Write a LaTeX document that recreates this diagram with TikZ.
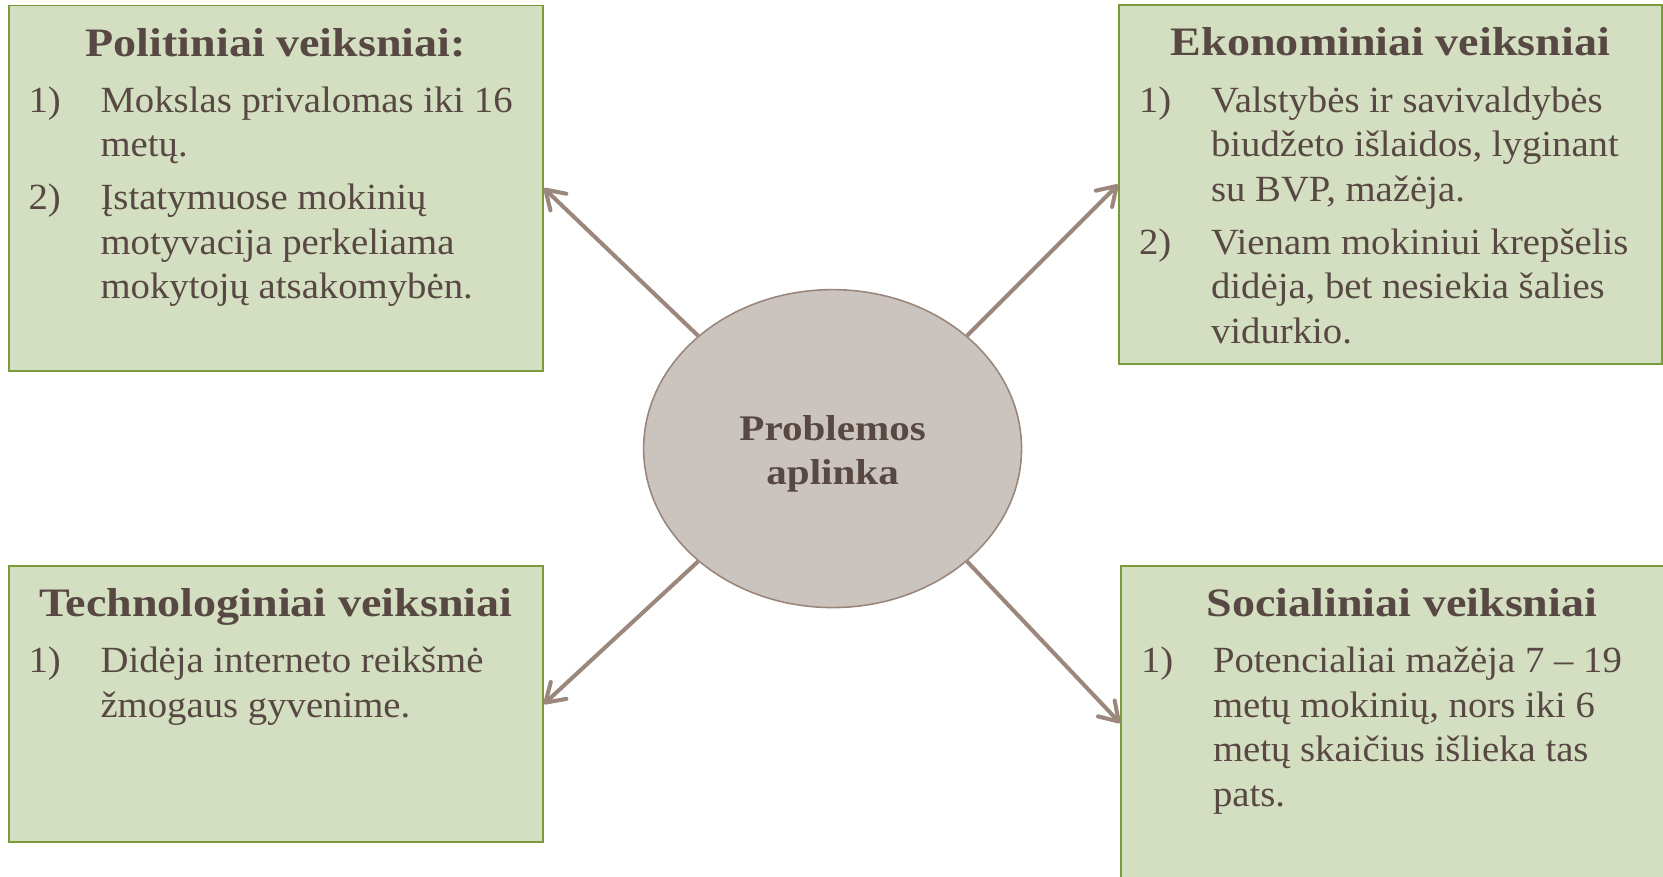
\documentclass[tikz,border=0pt]{standalone}
\usepackage{fontspec}
\setmainfont{Liberation Serif}[FakeStretch=1.05]
\newfontfamily\antrfont{Liberation Serif}[FakeStretch=1.14]
\usetikzlibrary{arrows.meta,shapes.geometric}

\definecolor{tekstas}{HTML}{574843}
\definecolor{langelis}{HTML}{D4DEC0}
\definecolor{remelis}{HTML}{7A9A3C}
\definecolor{elipse}{HTML}{CBC3BD}
\definecolor{elipsekr}{HTML}{9A867B}
\definecolor{rodykliu}{HTML}{9B877C}

\newcommand{\antraste}[1]{{\centering\antrfont\bfseries\fontsize{23}{25.3}\selectfont #1\par}\vspace{2pt}}
\newcommand{\punktas}[2]{{\let\\\newline\hangindent=1.44cm\hangafter=1\noindent\makebox[1.44cm][l]{#1}#2\par}}
\newcommand{\turinys}[3]{\parbox[t][#2][t]{#1}{\raggedright\parskip=4.8pt\fontsize{21}{25.3}\selectfont #3}}

\begin{document}
\begin{tikzpicture}[x=0.02cm, y=-0.02cm, >={Straight Barb[length=3.6mm,width=4.6mm,round]},
    laukas/.style={draw=remelis, fill=langelis, line width=1.1pt, text=tekstas, inner xsep=0.4cm, inner ysep=0.45cm},
    rodykle/.style={->, draw=rodykliu, line width=2.3pt}]
    \useasboundingbox (0,0) rectangle (1663,876);

    % keturi veiksniu langeliai
    \node[laukas] (polit) at (275.75,188.2) {\turinys{9.89cm}{6.41cm}{%
        \antraste{Politiniai veiksniai:}
        \punktas{1)}{Mokslas privalomas iki 16\\metų.}
        \punktas{2)}{Įstatymuose mokinių\\motyvacija perkeliama\\mokytojų atsakomybėn.}}};

    \node[laukas] (ekon) at (1390.5,184.6) {\turinys{10.06cm}{6.27cm}{%
        \antraste{Ekonominiai veiksniai}
        \punktas{1)}{Valstybės ir savivaldybės\\biudžeto išlaidos, lyginant\\su BVP, mažėja.}
        \punktas{2)}{Vienam mokiniui krepšelis\\didėja, bet nesiekia šalies\\vidurkio.}}};

    \node[laukas] (techn) at (275.75,704) {\turinys{9.89cm}{4.62cm}{%
        \antraste{Technologiniai veiksniai}
        \punktas{1)}{Didėja interneto reikšmė\\žmogaus gyvenime.}}};

    \node[laukas] (soc) at (1402,723) {\turinys{10.44cm}{5.38cm}{%
        \antraste{Socialiniai veiksniai}
        \punktas{1)}{Potencialiai mažėja 7 – 19\\metų mokinių, nors iki 6\\metų skaičius išlieka tas\\pats.}}};

    % centras
    \node[ellipse, draw=elipsekr, fill=elipse, line width=0.9pt, minimum width=7.56cm, minimum height=6.36cm,
        inner sep=0pt, align=center, text height=45.2pt, text=tekstas, font=\antrfont\fontsize{20.5}{25.3}\selectfont\bfseries] (probl) at (832.6,448.6) {Problemos\\aplinka};

    \draw[rodykle] (probl.140) -- (polit.east);
    \draw[rodykle] (probl.40) -- (ekon.west);
    \draw[rodykle] (probl.220) -- (techn.east);
    \draw[rodykle] (probl.320) -- (soc.west);
\end{tikzpicture}
\end{document}
